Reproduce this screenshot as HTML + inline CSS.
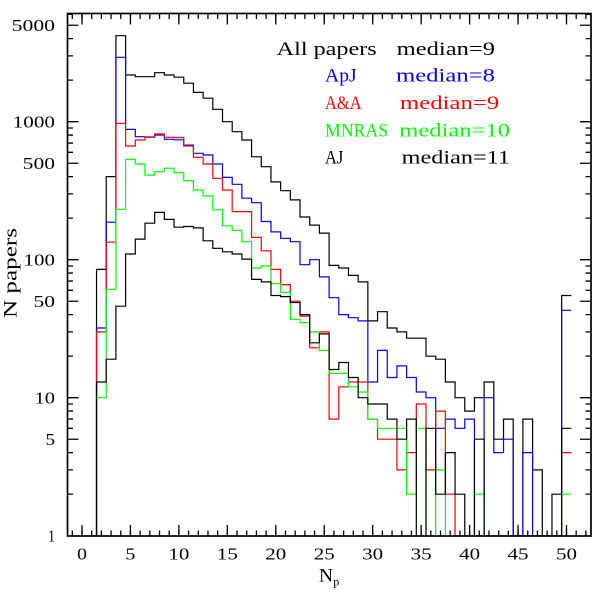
<!DOCTYPE html>
<html>
<head>
<meta charset="utf-8">
<style>
html,body{margin:0;padding:0;background:#fff;}
svg{display:block;}
text{font-family:"Liberation Serif",serif;}
</style>
</head>
<body>
<svg width="602" height="598" viewBox="0 0 602 598" xmlns="http://www.w3.org/2000/svg">
<defs>
<clipPath id="c"><rect x="67.5" y="13.5" width="523.5" height="522.5"/></clipPath>
</defs>
<rect x="0" y="0" width="602" height="598" fill="#fff"/>

<g clip-path="url(#c)" fill="none" stroke-width="1.2">
<path stroke="#000" d="M86.85 536 H96.54 V269.4 H106.23 V176.6 H115.92 V35.7 H125.61 V75.0 H135.30 V76.7 H144.99 V76.7 H154.68 V72.7 H164.37 V75.0 H174.06 V77.2 H183.75 V83.2 H193.44 V92.4 H203.13 V98.2 H212.82 V109.3 H222.51 V121.7 H232.20 V131.7 H241.89 V140.0 H251.58 V156.8 H261.27 V166.7 H270.96 V181.9 H280.65 V190.7 H290.34 V199.9 H300.03 V217.0 H309.72 V225.1 H319.41 V233.1 H329.10 V265.4 H338.79 V268.0 H348.48 V275.4 H358.17 V281.9 H367.86 V320.9 H377.55 V311.7 H387.24 V328.0 H396.93 V331.9 H406.62 V338.2 H416.31 V338.2 H426.00 V356.2 H435.69 V359.2 H445.38 V382.0 H455.07 V397.7 H464.76 V411.1 H474.45 V397.7 H484.14 V382.0 H493.83 V439.2 H503.52 V419.1 H513.21 V536 H522.90 V419.1 H532.59 V469.9 H542.28 V536 H551.97 V494.2 H561.66 V295.5 H571.35"/>
<path stroke="#0000ff" d="M86.85 536 H96.54 V328.0 H106.23 V222.2 H115.92 V57.3 H125.61 V129.4 H135.30 V136.7 H144.99 V137.0 H154.68 V135.0 H164.37 V139.3 H174.06 V139.8 H183.75 V145.1 H193.44 V153.3 H203.13 V155.0 H212.82 V164.0 H222.51 V177.4 H232.20 V184.3 H241.89 V198.2 H251.58 V202.7 H261.27 V221.5 H270.96 V231.9 H280.65 V238.3 H290.34 V241.7 H300.03 V264.7 H309.72 V259.7 H319.41 V276.9 H329.10 V297.7 H338.79 V314.6 H348.48 V317.7 H358.17 V320.9 H367.86 V382.0 H377.55 V350.4 H387.24 V377.5 H396.93 V365.9 H406.62 V377.5 H416.31 V392.0 H426.00 V397.7 H435.69 V428.3 H445.38 V419.1 H455.07 V428.3 H464.76 V419.1 H474.45 V536 H484.14 V397.7 H493.83 V452.6 H503.52 V439.2 H513.21 V536 H522.90 V452.6 H532.59 V536 H561.66 V310.3 H571.35"/>
<path stroke="#ff0000" d="M86.85 536 H96.54 V331.9 H106.23 V242.2 H115.92 V123.3 H125.61 V146.0 H135.30 V140.0 H144.99 V137.3 H154.68 V134.0 H164.37 V137.3 H174.06 V137.5 H183.75 V146.0 H193.44 V157.3 H203.13 V164.0 H212.82 V178.3 H222.51 V190.0 H232.20 V211.6 H241.89 V211.6 H251.58 V237.4 H261.27 V250.8 H270.96 V269.4 H280.65 V284.6 H290.34 V301.2 H300.03 V316.1 H309.72 V347.8 H319.41 V331.9 H329.10 V419.1 H338.79 V386.8 H348.48 V382.0 H358.17 V382.0 H367.86 V419.1 H377.55 V439.2 H387.24 V439.2 H396.93 V469.9 H406.62 V452.6 H416.31 V404.0 H426.00 V469.9 H435.69 V411.1 H445.38 V494.2 H455.07 V536 H561.66 V452.6 H571.35"/>
<path stroke="#00ff00" d="M86.85 536 H96.54 V397.7 H106.23 V289.3 H115.92 V209.3 H125.61 V159.3 H135.30 V164.0 H144.99 V175.0 H154.68 V171.7 H164.37 V168.2 H174.06 V172.7 H183.75 V180.6 H193.44 V190.0 H203.13 V195.9 H212.82 V209.8 H222.51 V225.8 H232.20 V230.4 H241.89 V241.7 H251.58 V268.0 H261.27 V266.0 H270.96 V283.7 H280.65 V292.4 H290.34 V319.3 H300.03 V322.6 H309.72 V331.9 H319.41 V350.4 H329.10 V373.4 H338.79 V373.4 H348.48 V386.8 H358.17 V392.0 H367.86 V419.1 H377.55 V428.3 H387.24 V428.3 H396.93 V428.3 H406.62 V494.2 H416.31 V428.3 H426.00 V536 H435.69 V469.9 H445.38 V536 H474.45 V494.2 H484.14 V536 H561.66 V494.2 H571.35"/>
<path stroke="#000" d="M86.85 536 H96.54 V382.0 H106.23 V359.2 H115.92 V306.2 H125.61 V254.0 H135.30 V239.1 H144.99 V223.2 H154.68 V212.4 H164.37 V219.4 H174.06 V227.2 H183.75 V226.5 H193.44 V227.9 H203.13 V240.8 H212.82 V248.3 H222.51 V251.8 H232.20 V254.0 H241.89 V259.1 H251.58 V279.4 H261.27 V281.9 H270.96 V295.5 H280.65 V296.6 H290.34 V302.5 H300.03 V314.6 H309.72 V342.8 H319.41 V333.9 H329.10 V369.5 H338.79 V362.5 H348.48 V377.5 H358.17 V397.7 H367.86 V404.0 H377.55 V404.0 H387.24 V419.1 H396.93 V439.2 H406.62 V419.1 H416.31 V536 H426.00 V428.3 H435.69 V494.2 H445.38 V452.6 H455.07 V494.2 H464.76 V536 H474.45 V439.2 H484.14 V536 H561.66 V428.3 H571.35"/>
</g>

<g fill="none" stroke="#000">
<line x1="71.66" y1="533.25" x2="590" y2="533.25" stroke-width="5.5" stroke-dasharray="1.3 8.39"/>
<line x1="71.66" y1="16.25" x2="590" y2="16.25" stroke-width="5.5" stroke-dasharray="1.3 8.39"/>
<line x1="81.35" y1="530.5" x2="568" y2="530.5" stroke-width="11" stroke-dasharray="1.3 47.15"/>
<line x1="81.35" y1="19" x2="568" y2="19" stroke-width="11" stroke-dasharray="1.3 47.15"/>
<path stroke-width="1.3" d="M67.5 439.24H78.5M591 439.24H580M67.5 397.7H78.5M591 397.7H580M67.5 301.24H78.5M591 301.24H580M67.5 259.7H78.5M591 259.7H580M67.5 163.24H78.5M591 163.24H580M67.5 121.7H78.5M591 121.7H580M67.5 25.24H78.5M591 25.24H580M67.5 494.16H73M591 494.16H585.5M67.5 469.86H73M591 469.86H585.5M67.5 452.62H73M591 452.62H585.5M67.5 428.31H73M591 428.31H585.5M67.5 419.08H73M591 419.08H585.5M67.5 411.07H73M591 411.07H585.5M67.5 404.01H73M591 404.01H585.5M67.5 356.16H73M591 356.16H585.5M67.5 331.86H73M591 331.86H585.5M67.5 314.62H73M591 314.62H585.5M67.5 290.31H73M591 290.31H585.5M67.5 281.08H73M591 281.08H585.5M67.5 273.07H73M591 273.07H585.5M67.5 266.01H73M591 266.01H585.5M67.5 218.16H73M591 218.16H585.5M67.5 193.86H73M591 193.86H585.5M67.5 176.62H73M591 176.62H585.5M67.5 152.31H73M591 152.31H585.5M67.5 143.08H73M591 143.08H585.5M67.5 135.07H73M591 135.07H585.5M67.5 128.01H73M591 128.01H585.5M67.5 80.16H73M591 80.16H585.5M67.5 55.86H73M591 55.86H585.5M67.5 38.62H73M591 38.62H585.5M67.5 14.31H73M591 14.31H585.5"/>
<rect x="67.5" y="13.5" width="523.5" height="522.5" stroke-width="1.7"/>
</g>

<g font-size="17" fill="#000" text-anchor="middle">
<text x="82" y="559.3" textLength="10" lengthAdjust="spacingAndGlyphs">0</text>
<text x="130.45" y="559.3" textLength="10" lengthAdjust="spacingAndGlyphs">5</text>
<text x="178.9" y="559.3" textLength="21" lengthAdjust="spacingAndGlyphs">10</text>
<text x="227.35" y="559.3" textLength="21" lengthAdjust="spacingAndGlyphs">15</text>
<text x="275.8" y="559.3" textLength="21" lengthAdjust="spacingAndGlyphs">20</text>
<text x="324.25" y="559.3" textLength="21" lengthAdjust="spacingAndGlyphs">25</text>
<text x="372.7" y="559.3" textLength="21" lengthAdjust="spacingAndGlyphs">30</text>
<text x="421.15" y="559.3" textLength="21" lengthAdjust="spacingAndGlyphs">35</text>
<text x="469.6" y="559.3" textLength="21" lengthAdjust="spacingAndGlyphs">40</text>
<text x="518.05" y="559.3" textLength="21" lengthAdjust="spacingAndGlyphs">45</text>
<text x="566.5" y="559.3" textLength="21" lengthAdjust="spacingAndGlyphs">50</text>
</g>

<g font-size="17" fill="#000" text-anchor="end">
<text x="55" y="541.5" textLength="7" lengthAdjust="spacingAndGlyphs">1</text>
<text x="55" y="445" textLength="9.5" lengthAdjust="spacingAndGlyphs">5</text>
<text x="55" y="403.5" textLength="20.5" lengthAdjust="spacingAndGlyphs">10</text>
<text x="55" y="307" textLength="21.5" lengthAdjust="spacingAndGlyphs">50</text>
<text x="55" y="265.5" textLength="31.5" lengthAdjust="spacingAndGlyphs">100</text>
<text x="55" y="169" textLength="32.3" lengthAdjust="spacingAndGlyphs">500</text>
<text x="55" y="127.5" textLength="42.3" lengthAdjust="spacingAndGlyphs">1000</text>
<text x="55" y="31" textLength="43.3" lengthAdjust="spacingAndGlyphs">5000</text>
</g>

<text font-size="18.5" fill="#000" text-anchor="middle" transform="translate(16.3,273) rotate(-90)" textLength="90" lengthAdjust="spacingAndGlyphs">N papers</text>
<text font-size="19" fill="#000" x="319" y="581.7" textLength="14" lengthAdjust="spacingAndGlyphs">N</text>
<text font-size="12" fill="#000" x="333.3" y="585.5" textLength="6" lengthAdjust="spacingAndGlyphs">p</text>

<g font-size="18.5">
<text x="276.7" y="55" fill="#000" textLength="100" lengthAdjust="spacingAndGlyphs">All papers</text>
<text x="396.7" y="55" fill="#000" textLength="98.3" lengthAdjust="spacingAndGlyphs">median=9</text>
<text x="325" y="81.7" fill="#0000ff" textLength="31.7" lengthAdjust="spacingAndGlyphs">ApJ</text>
<text x="396" y="81.7" fill="#0000ff" textLength="99" lengthAdjust="spacingAndGlyphs">median=8</text>
<text x="325" y="109" fill="#ff0000" textLength="36.7" lengthAdjust="spacingAndGlyphs">A&amp;A</text>
<text x="400" y="109" fill="#ff0000" textLength="99.3" lengthAdjust="spacingAndGlyphs">median=9</text>
<text x="325" y="136.7" fill="#00ff00" textLength="63.3" lengthAdjust="spacingAndGlyphs">MNRAS</text>
<text x="399.3" y="136.7" fill="#00ff00" textLength="110.7" lengthAdjust="spacingAndGlyphs">median=10</text>
<text x="325" y="163.3" fill="#000" textLength="18.3" lengthAdjust="spacingAndGlyphs">AJ</text>
<text x="401.7" y="163.3" fill="#000" textLength="108.3" lengthAdjust="spacingAndGlyphs">median=11</text>
</g>
</svg>
</body>
</html>
